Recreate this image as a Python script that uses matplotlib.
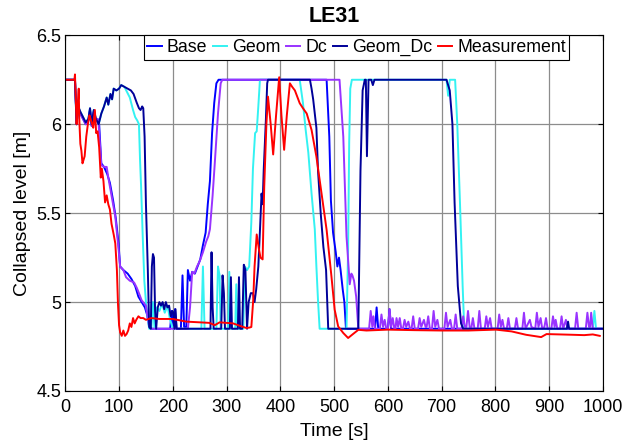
import matplotlib
matplotlib.use("Agg")
import matplotlib.pyplot as plt

plt.rcParams["font.family"] = ["Liberation Sans", "DejaVu Sans"]

# ---------------------------------------------------------------------------
# Data (time [s], collapsed level [m])
# ---------------------------------------------------------------------------
base_t = [0, 18, 20, 21, 24, 28, 33, 38, 43, 46, 49, 53, 57, 60, 63, 67, 72, 78,
          83, 89, 94, 99, 102, 108, 116, 123, 130, 136, 142, 148, 152, 156, 160,
          195, 198, 201, 204, 207, 215, 218, 221, 225, 228, 232, 236, 241, 246,
          251, 256, 261, 265, 269, 273, 277, 281, 285, 486, 491, 494, 498, 503,
          506, 509, 512, 516, 519, 522, 576, 579, 582, 600, 603, 606, 1000]
base_v = [6.25, 6.25, 6.1, 6.0, 6.09, 6.06, 6.03, 6.0, 6.02, 6.08, 5.99, 6.07,
          6.02, 6.03, 6.0, 5.78, 5.76, 5.72, 5.67, 5.57, 5.47, 5.33, 5.2, 5.18,
          5.16, 5.13, 5.09, 5.03, 5.0, 4.97, 4.93, 4.86, 4.85, 4.85, 4.95, 4.87,
          4.96, 4.85, 4.85, 5.15, 4.86, 4.86, 5.18, 5.12, 5.17, 5.16, 5.2, 5.24,
          5.32, 5.39, 5.55, 5.68, 5.95, 6.12, 6.23, 6.25, 6.25, 5.93, 5.57, 5.39,
          5.28, 5.2, 5.25, 5.18, 5.07, 5.0, 4.85, 4.85, 4.97, 4.85, 4.85, 4.96,
          4.85, 4.85]

geom_t = [0, 18, 21, 24, 28, 33, 38, 43, 46, 49, 53, 57, 62, 67, 72, 77, 80, 84,
          87, 90, 95, 100, 104, 110, 115, 120, 126, 130, 134, 137, 139, 141, 144,
          147, 150, 153, 156, 160, 163, 166, 170, 175, 180, 185, 190, 195, 200,
          253, 256, 259, 281, 284, 287, 289, 303, 305, 308, 316, 318, 320, 331,
          334, 338, 342, 346, 349, 353, 356, 359, 362, 436, 442, 447, 452, 458,
          464, 467, 470, 473, 523, 526, 528, 530, 533, 709, 712, 715, 725, 729,
          734, 739, 742, 981, 984, 987, 1000]
geom_v = [6.25, 6.25, 6.0, 6.1, 6.07, 6.04, 6.01, 6.03, 6.09, 6.0, 6.08, 6.03,
          6.0, 6.06, 6.1, 6.15, 6.11, 6.17, 6.14, 6.2, 6.19, 6.2, 6.22, 6.21,
          6.18, 6.15, 6.08, 6.04, 6.02, 6.0, 5.8, 5.65, 5.37, 5.12, 5.0, 4.92,
          4.85, 4.85, 5.0, 4.85, 4.97, 4.95, 4.99, 4.94, 4.98, 4.9, 4.85, 4.85,
          5.2, 4.85, 4.85, 5.2, 5.15, 4.85, 4.85, 5.17, 4.85, 4.85, 5.1, 4.85,
          4.85, 5.2, 5.18, 5.2, 5.45, 5.75, 5.95, 5.96, 6.1, 6.25, 6.25, 6.12,
          5.97, 5.84, 5.61, 5.41, 5.2, 5.01, 4.85, 4.85, 5.3, 5.9, 6.2, 6.25,
          6.25, 6.16, 6.25, 6.25, 6.0, 5.56, 5.09, 4.85, 4.85, 4.95, 4.85, 4.85]

dc_t = [0, 18, 20, 21, 24, 28, 33, 38, 43, 46, 49, 53, 57, 60, 62, 67, 72, 77,
        80, 86, 93, 99, 102, 108, 113, 120, 128, 133, 137, 142, 150, 154, 157,
        160, 228, 232, 236, 240, 245, 250, 256, 262, 266, 269, 274, 278, 284,
        289, 292, 510, 517, 523, 529, 532, 534, 537, 541, 545,
        565, 568, 571, 573, 576, 585, 588, 591, 594, 597, 600, 603, 606, 609,
        612, 614, 616, 619, 622, 625, 628, 631, 634, 638, 641, 644, 647, 650,
        656, 659, 662, 667, 670, 672, 675, 678, 682, 685, 688, 692, 695, 705,
        708, 711, 716, 719, 723, 726, 729, 737, 740, 743, 746, 749, 752, 755,
        758, 761, 767, 770, 773, 780, 783, 786, 790, 793, 804, 807, 810, 813,
        816, 821, 824, 827, 836, 839, 842, 850, 853, 856, 864, 867, 874, 877,
        880, 884, 887, 891, 894, 897, 904, 907, 910, 912, 915, 920, 923, 926,
        931, 934, 948, 951, 954, 968, 971, 974, 976, 978, 981, 1000]
dc_v = [6.25, 6.25, 6.1, 6.0, 6.09, 6.06, 6.03, 6.0, 6.02, 6.08, 5.99, 6.07,
        6.02, 6.03, 6.0, 5.77, 5.76, 5.76, 5.7, 5.6, 5.48, 5.3, 5.2, 5.18, 5.14,
        5.12, 5.11, 5.08, 5.05, 5.01, 4.98, 4.9, 4.86, 4.85, 4.85, 4.97, 5.17,
        5.16, 5.2, 5.23, 5.28, 5.34, 5.37, 5.41, 5.6, 5.78, 6.06, 6.23, 6.25,
        6.25, 5.93, 5.37, 5.1, 5.16, 5.15, 5.12, 5.03, 4.85,
        4.85, 4.95, 4.86, 4.92, 4.85, 4.85, 4.93, 4.86, 4.9, 4.85, 4.85, 4.96,
        4.86, 4.91, 4.85, 4.85, 4.91, 4.86, 4.91, 4.85, 4.85, 4.9, 4.86, 4.89,
        4.85, 4.85, 4.92, 4.85, 4.85, 4.91, 4.86, 4.9, 4.86, 4.86, 4.92, 4.85,
        4.85, 4.95, 4.86, 4.9, 4.85, 4.85, 4.94, 4.86, 4.9, 4.85, 4.85, 4.93,
        4.85, 4.85, 4.92, 4.86, 4.86, 4.95, 4.86, 4.85, 4.91, 4.85, 4.85, 4.95,
        4.85, 4.85, 4.92, 4.86, 4.91, 4.85, 4.85, 4.93, 4.86, 4.9, 4.85, 4.85,
        4.91, 4.85, 4.85, 4.91, 4.85, 4.85, 4.94, 4.85, 4.9, 4.86, 4.85, 4.94,
        4.86, 4.91, 4.85, 4.86, 4.91, 4.85, 4.85, 4.92, 4.86, 4.9, 4.85, 4.85,
        4.92, 4.85, 4.9, 4.85, 4.85, 4.94, 4.85, 4.85, 4.94, 4.86, 4.86, 4.94,
        4.85, 4.85]

geom_dc_t = [0, 18, 21, 24, 28, 33, 38, 43, 46, 49, 53, 57, 62, 67, 72, 77, 80,
             84, 87, 90, 95, 100, 104, 110, 116, 122, 127, 133, 137, 140, 143,
             145, 147.5, 150, 153.5, 156, 159, 161, 163, 165, 167, 169, 172, 175,
             178, 181, 184, 187, 190, 193, 196, 199, 201, 203, 205, 207, 270, 272,
             274, 276, 290, 292.5, 295, 297, 306, 308, 310, 321, 323, 325, 329,
             332, 335, 338, 341, 345, 349, 352, 355, 359, 362, 365, 367, 369, 373,
             375.5, 377, 455, 458, 461, 464, 467, 470, 475, 480, 485, 489, 545,
             549, 553, 557, 559, 561, 564, 569, 572, 575, 709, 715, 720, 724, 730,
             736, 740, 933, 935, 937, 1000]
geom_dc_v = [6.25, 6.25, 6.0, 6.1, 6.07, 6.04, 6.01, 6.03, 6.09, 6.0, 6.08, 6.03,
             6.0, 6.06, 6.1, 6.15, 6.11, 6.17, 6.14, 6.2, 6.19, 6.2, 6.22, 6.21,
             6.2, 6.19, 6.17, 6.12, 6.09, 6.08, 6.1, 6.09, 5.93, 5.55, 5.18, 4.86,
             4.85, 5.2, 5.27, 5.25, 4.95, 4.85, 4.97, 5.0, 4.98, 5.0, 4.96, 5.0,
             4.97, 4.98, 4.92, 4.95, 4.94, 4.85, 4.96, 4.85, 4.85, 5.28, 4.97,
             4.85, 4.85, 5.15, 5.05, 4.85, 4.85, 5.14, 4.85, 4.85, 5.14, 4.85,
             4.85, 5.21, 5.18, 4.85, 5.0, 5.05, 5.05, 5.0, 5.07, 5.2, 5.4, 5.61,
             5.55, 5.74, 6.02, 6.23, 6.25, 6.25, 6.2, 6.14, 6.06, 5.98, 5.74, 5.5,
             5.31, 5.18, 4.85, 4.85, 5.74, 6.19, 6.25, 6.25, 5.82, 6.25, 6.25,
             6.22, 6.25, 6.25, 6.19, 6.0, 5.56, 5.09, 4.88, 4.85, 4.85, 4.89,
             4.85, 4.85]

meas_t = [0, 17, 18, 20, 21, 23, 25, 26, 28, 30, 32, 34, 36, 39, 42, 45, 47, 50,
          52, 55, 57.5, 60, 63, 66, 68, 71, 74, 77, 80, 83, 86, 90, 93, 96, 98,
          100, 102, 105, 108, 111, 114, 117, 120, 123, 126, 129, 132, 136, 140,
          145, 150, 160, 175, 200, 225, 250, 268, 278, 287, 312, 325, 337, 343,
          346, 349.5, 352, 356, 360, 363, 367, 370, 374, 377, 382, 386.6, 392,
          397.8, 402, 407, 412, 417.7, 422, 427, 436, 442, 449, 458, 467, 476.6,
          486, 495, 501, 507.5, 517, 526, 535, 545, 560, 600, 650, 700, 750, 801,
          830, 857, 870, 885, 895, 920, 944, 965, 981, 994]
meas_v = [6.25, 6.25, 6.28, 6.1, 6.0, 6.1, 6.2, 6.03, 5.89, 5.85, 5.78, 5.8,
          5.82, 5.93, 6.0, 6.05, 6.03, 6.0, 5.98, 6.08, 5.95, 5.96, 5.87, 5.7,
          5.75, 5.68, 5.56, 5.6, 5.55, 5.52, 5.44, 5.38, 5.33, 5.18, 4.99, 4.87,
          4.83, 4.81, 4.84, 4.81, 4.82, 4.84, 4.88, 4.86, 4.91, 4.88, 4.9, 4.92,
          4.91, 4.91, 4.9, 4.91, 4.905, 4.905, 4.89, 4.886, 4.883, 4.87, 4.886,
          4.88, 4.866, 4.854, 4.857, 4.86, 5.01, 5.2, 5.38, 5.3, 5.25, 5.24,
          5.65, 6.0, 6.155, 6.0, 5.83, 6.05, 6.264, 6.05, 5.856, 6.05, 6.23,
          6.21, 6.19, 6.118, 6.09, 6.06, 5.968, 5.818, 5.61, 5.406, 5.144, 4.957,
          4.863, 4.826, 4.798, 4.82, 4.844, 4.84, 4.845, 4.842, 4.84, 4.84,
          4.845, 4.835, 4.816, 4.81, 4.803, 4.82, 4.818, 4.816, 4.814, 4.818,
          4.81]

SERIES = [
    ("Base", base_t, base_v, "#0000FF"),
    ("Geom", geom_t, geom_v, "#33F2F2"),
    ("Dc", dc_t, dc_v, "#9933FF"),
    ("Geom_Dc", geom_dc_t, geom_dc_v, "#000099"),
    ("Measurement", meas_t, meas_v, "#FF0000"),
]

x_ticks = list(range(0, 1001, 100))
y_ticks = [4.5, 5, 5.5, 6, 6.5]

# ---------------------------------------------------------------------------
# Figure
# ---------------------------------------------------------------------------
fig = plt.figure(figsize=(6.32, 4.44), dpi=100)
ax = fig.add_axes([0.1033, 0.1194, 0.8508, 0.8011])

for name, t, v, color in SERIES:
    ax.plot(t, v, color=color, linewidth=1.4, label=name)

ax.set_xlim(0, 1000)
ax.set_ylim(4.5, 6.5)
ax.set_xticks(x_ticks)
ax.set_yticks(y_ticks)
ax.set_yticklabels(["4.5", "5", "5.5", "6", "6.5"])
ax.tick_params(direction="in", length=3.5, width=0.8, top=True, right=True,
               labelsize=13)
ax.tick_params(axis="x", pad=5.5)
ax.tick_params(axis="y", pad=3)
ax.grid(True, color="#8c8c8c", linewidth=0.9)
for sp in ax.spines.values():
    sp.set_linewidth(0.8)

ax.set_xlabel("Time [s]", fontsize=14, labelpad=5)
ax.set_ylabel("Collapsed level [m]", fontsize=14, labelpad=4)
ax.set_title("LE31", fontsize=15.5, fontweight="bold", pad=9.5)

leg = ax.legend(loc="upper left", bbox_to_anchor=(0.146, 1.0), ncol=5,
                fontsize=12.8, handlelength=0.8, handletextpad=0.3,
                columnspacing=0.3, borderaxespad=0, borderpad=0.2,
                fancybox=False, framealpha=1, edgecolor="black")
leg.get_frame().set_linewidth(0.8)

fig.savefig("out.png", dpi=100)
